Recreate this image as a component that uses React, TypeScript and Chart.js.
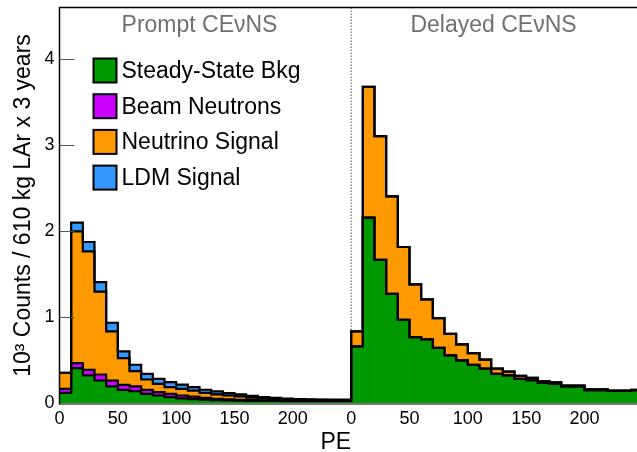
import React, { useEffect, useRef } from "react";
import { Chart, registerables } from "chart.js";

Chart.register(...registerables);

// ---- data (units: 10^3 counts per 10 PE bin) ----
const BIN_WIDTH = 10;
const PANEL_SPAN = 250; // delayed panel is drawn shifted by this many PE
const X_MAX = 495;
const Y_MAX = 4.6;

const promptSteady = [0.124, 0.41, 0.326, 0.267, 0.2, 0.159, 0.143, 0.112, 0.093, 0.074, 0.06, 0.05, 0.045, 0.04, 0.035, 0.033, 0.031, 0.03, 0.029, 0.028, 0.028, 0.028, 0.028, 0.028, 0.028];
const promptBeamN = [0.047, 0.06, 0.064, 0.07, 0.067, 0.058, 0.057, 0.047, 0.039, 0.038, 0.033, 0.03, 0.021, 0.015, 0.012, 0.01, 0.008, 0.007, 0.006, 0.005, 0.004, 0.004, 0.003, 0.003, 0.003];
const promptNu = [0.186, 1.53, 1.377, 0.963, 0.57, 0.31, 0.176, 0.12, 0.097, 0.078, 0.077, 0.07, 0.058, 0.05, 0.046, 0.04, 0.03, 0.023, 0.018, 0.015, 0.012, 0.011, 0.01, 0.009, 0.009];
const promptLDM = [0.0, 0.1, 0.109, 0.11, 0.101, 0.078, 0.074, 0.066, 0.058, 0.058, 0.05, 0.04, 0.036, 0.035, 0.027, 0.022, 0.019, 0.015, 0.012, 0.01, 0.008, 0.006, 0.005, 0.005, 0.004];

const delayedSteady = [0.663, 2.159, 1.67, 1.275, 0.973, 0.771, 0.744, 0.647, 0.558, 0.5, 0.45, 0.405, 0.345, 0.326, 0.287, 0.27, 0.24, 0.23, 0.2, 0.2, 0.155, 0.155, 0.145, 0.145, 0.155];
const delayedBeamN = [0, 0, 0, 0, 0, 0, 0, 0, 0, 0, 0, 0, 0, 0, 0, 0, 0, 0, 0, 0, 0, 0, 0, 0, 0];
const delayedNu = [0.174, 1.519, 1.435, 1.132, 0.845, 0.613, 0.465, 0.345, 0.252, 0.186, 0.135, 0.105, 0.06, 0.044, 0.035, 0.027, 0.016, 0.015, 0.009, 0.009, 0.008, 0.008, 0.006, 0.006, 0.005];
const delayedLDM = [0, 0, 0, 0, 0, 0, 0, 0, 0, 0, 0, 0, 0, 0, 0, 0, 0, 0, 0, 0, 0, 0, 0, 0, 0];

const seriesLabels = ["Steady-State Bkg", "Beam Neutrons", "Neutrino Signal", "LDM Signal"];
const seriesColors = ["#009900", "#cc00ff", "#ff9900", "#3399ff"];
const panelLabels = ["Prompt CEνNS", "Delayed CEνNS"];
const panelLabelCenters = [120, 372];
const xTickValues = [0, 50, 100, 150, 200, 250, 300, 350, 400, 450];
const xTickLabels = ["0", "50", "100", "150", "200", "0", "50", "100", "150", "200"];
const yTickValues = [0, 1, 2, 3, 4];
const yTitle = "10³ Counts / 610 kg LAr x 3 years";
const xTitle = "PE";

const FONT = "'Liberation Sans', Arial, Helvetica, sans-serif";

const layers = [
  promptSteady.concat(delayedSteady),
  promptBeamN.concat(delayedBeamN),
  promptNu.concat(delayedNu),
  promptLDM.concat(delayedLDM),
];

const decorPlugin = {
  id: "decor",
  beforeDatasetsDraw(chart: any) {
    const { ctx, chartArea: a, scales } = chart;
    const px = scales.x.getPixelForValue(PANEL_SPAN);
    ctx.save();
    ctx.strokeStyle = "#8a8a8a";
    ctx.lineWidth = 1.5;
    ctx.setLineDash([1.5, 1.5]);
    ctx.beginPath();
    ctx.moveTo(px, a.top);
    ctx.lineTo(px, a.bottom);
    ctx.stroke();
    ctx.restore();
  },
  afterDatasetsDraw(chart: any) {
    const { ctx, chartArea: a, scales } = chart;
    const x = scales.x;
    const y = scales.y;
    ctx.save();
    // bottom axis line
    ctx.strokeStyle = "#777";
    ctx.lineWidth = 2;
    ctx.beginPath();
    ctx.moveTo(a.left, a.bottom + 0.5);
    ctx.lineTo(a.right, a.bottom + 0.5);
    ctx.stroke();
    // frame top + left
    ctx.strokeStyle = "#000";
    ctx.lineWidth = 1.5;
    ctx.beginPath();
    ctx.moveTo(a.right + 2, a.top);
    ctx.lineTo(a.left, a.top);
    ctx.lineTo(a.left, a.bottom + 1);
    ctx.stroke();
    // inward y ticks
    ctx.strokeStyle = "#555";
    ctx.lineWidth = 1;
    for (const v of yTickValues) {
      if (v === 0) continue;
      const py = Math.round(y.getPixelForValue(v)) + 0.5;
      ctx.beginPath();
      ctx.moveTo(a.left, py);
      ctx.lineTo(a.left + 15, py);
      ctx.stroke();
    }
    // panel labels
    ctx.fillStyle = "#707070";
    ctx.font = `23px ${FONT}`;
    ctx.textAlign = "center";
    ctx.textBaseline = "middle";
    panelLabels.forEach((t, i) => {
      ctx.fillText(t, x.getPixelForValue(panelLabelCenters[i]), a.top + 18);
    });
    // legend
    const boxL = a.left + 34;
    const boxW = 23;
    const boxH = 24;
    ctx.textAlign = "left";
    ctx.font = `23px ${FONT}`;
    seriesLabels.forEach((t, i) => {
      const cy = a.top + 63 + i * 35.7;
      ctx.fillStyle = seriesColors[i];
      ctx.fillRect(boxL, cy - boxH / 2, boxW, boxH);
      ctx.strokeStyle = "#000";
      ctx.lineWidth = 2;
      ctx.strokeRect(boxL, cy - boxH / 2, boxW, boxH);
      ctx.fillStyle = "#000";
      ctx.fillText(t, boxL + boxW + 5, cy + 1);
    });
    // x title
    ctx.font = `23px ${FONT}`;
    ctx.textAlign = "right";
    ctx.fillStyle = "#000";
    ctx.fillText(xTitle, x.getPixelForValue(PANEL_SPAN), 443);
    ctx.restore();
  },
};

export default function App() {
  const ref = useRef<HTMLCanvasElement | null>(null);

  useEffect(() => {
    if (!ref.current) return;
    const nBins = layers[0].length;
    const centers = layers[0].map((_, i) => i * BIN_WIDTH + BIN_WIDTH / 2);
    const edges = Array.from({ length: nBins + 1 }, (_, i) => i * BIN_WIDTH);

    const cumulative: number[][] = [];
    layers.forEach((layer, k) => {
      cumulative.push(layer.map((v, i) => v + (k > 0 ? cumulative[k - 1][i] : 0)));
    });

    const barSets = layers.map((layer, k) => ({
      type: "bar" as const,
      label: seriesLabels[k],
      data: layer.map((v, i) => ({ x: centers[i], y: v })),
      backgroundColor: seriesColors[k],
      borderWidth: 0,
      barPercentage: 1,
      categoryPercentage: 1,
      stack: "hist",
      order: 2,
    }));

    const outlineSets = cumulative.map((cum, k) => ({
      type: "line" as const,
      label: seriesLabels[k] + " outline",
      data: edges.map((e, i) => ({ x: e, y: cum[Math.min(i, nBins - 1)] })),
      borderColor: "#000",
      borderWidth: 2.2,
      pointRadius: 0,
      fill: false,
      stepped: "before" as const,
      stack: "outline" + k,
      order: 1,
    }));

    const chart = new Chart(ref.current, {
      type: "bar",
      data: { datasets: [...outlineSets, ...barSets] as any },
      options: {
        animation: false,
        responsive: false,
        devicePixelRatio: 1,
        layout: { padding: { top: 7.5, right: 0, left: 0, bottom: 0 } },
        plugins: { legend: { display: false }, tooltip: { enabled: false } },
        scales: {
          x: {
            type: "linear",
            min: 0,
            max: X_MAX,
            stacked: true,
            offset: false,
            grid: { display: false, drawTicks: false },
            border: { display: false },
            afterBuildTicks: (s: any) => {
              s.ticks = xTickValues.map((v) => ({ value: v }));
            },
            afterFit: (s: any) => {
              s.height = 48.5;
              s.paddingLeft = 0;
              s.paddingRight = 0;
            },
            ticks: {
              includeBounds: false,
              autoSkip: false,
              maxRotation: 0,
              padding: 5,
              color: "#000",
              font: { family: FONT, size: 18 },
              callback: (v: any) => {
                const idx = xTickValues.indexOf(Number(v));
                return idx >= 0 ? xTickLabels[idx] : "";
              },
            },
          },
          y: {
            type: "linear",
            min: 0,
            max: Y_MAX,
            stacked: true,
            grid: { display: false, drawTicks: false },
            border: { display: false },
            afterBuildTicks: (s: any) => {
              s.ticks = yTickValues.map((v) => ({ value: v }));
            },
            afterFit: (s: any) => {
              s.width = 59.5;
              s.paddingTop = 0;
              s.paddingBottom = 0;
            },
            ticks: {
              includeBounds: false,
              padding: 5,
              color: "#000",
              font: { family: FONT, size: 18 },
            },
            title: {
              display: true,
              text: yTitle,
              color: "#000",
              font: { family: FONT, size: 23 },
              padding: { top: 10, bottom: 0 },
            },
          },
        },
      },
      plugins: [decorPlugin],
    });
    return () => chart.destroy();
  }, []);

  return (
    <div style={{ position: "fixed", left: 0, top: 0, width: 637, height: 452, background: "#fff", overflow: "hidden" }}>
      <canvas ref={ref} width={637} height={452} style={{ display: "block", width: 637, height: 452 }} />
    </div>
  );
}
